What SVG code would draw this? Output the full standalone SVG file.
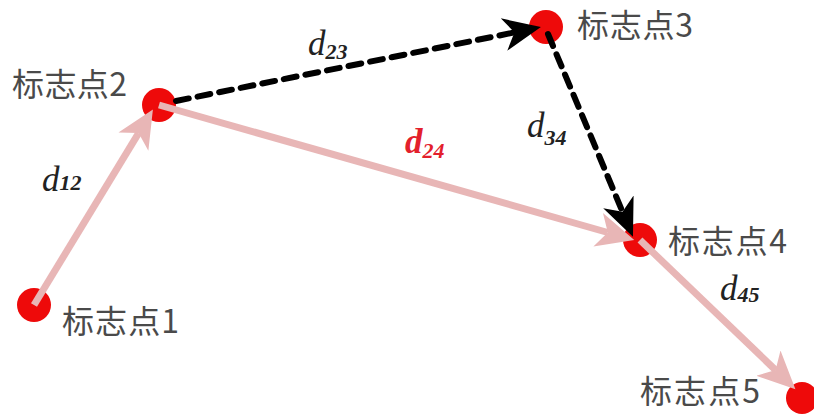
<svg xmlns="http://www.w3.org/2000/svg" width="814" height="414" viewBox="0 0 814 414">
<defs>
<style>
.node{fill:#ee0a0a;}
.lbl{font-family:"Noto Sans CJK SC","Noto Sans CJK JP",sans-serif;font-size:32px;fill:#4a4a4a;}
.d{font-family:"Liberation Serif",serif;font-style:italic;font-size:35px;fill:#222;}
.sub{font-size:22px;font-weight:bold;}
.pink{stroke:#e8b6b6;stroke-width:7;fill:none;}
.dash{stroke:#000;stroke-width:6;fill:none;stroke-dasharray:13 9;stroke-linecap:round;}
</style>
<marker id="pa" markerUnits="userSpaceOnUse" markerWidth="40" markerHeight="40" refX="8" refY="15" orient="auto" viewBox="0 0 32 30">
<path d="M30,15 L0,1 L8,15 L0,29 Z" fill="#e8b6b6"/>
</marker>
<marker id="ba" markerUnits="userSpaceOnUse" markerWidth="40" markerHeight="40" refX="9" refY="15" orient="auto" viewBox="0 0 34 30">
<path d="M32,15 L0,1 L9,15 L0,29 Z" fill="#000"/>
</marker>
</defs>
<rect width="814" height="414" fill="#fff"/>
<g id="node1"><circle class="node" cx="34" cy="305" r="17"/><text class="lbl" x="62" y="333" textLength="117" lengthAdjust="spacing">标志点1</text></g>
<g id="node2"><circle class="node" cx="159" cy="105" r="17"/><text class="lbl" x="12" y="96" textLength="115" lengthAdjust="spacing">标志点2</text></g>
<g id="node3"><circle class="node" cx="546" cy="27" r="17"/><text class="lbl" x="577" y="37" textLength="116" lengthAdjust="spacing">标志点3</text></g>
<g id="node4"><circle class="node" cx="640" cy="240" r="17"/><text class="lbl" x="668" y="253" textLength="119" lengthAdjust="spacing">标志点4</text></g>
<g id="node5"><circle class="node" cx="802" cy="398" r="16"/><text class="lbl" x="640" y="403" textLength="120" lengthAdjust="spacing">标志点5</text></g>
<g id="connectors">
<line class="pink" x1="34" y1="305" x2="138.6" y2="133.1" marker-end="url(#pa)"/>
<line class="pink" x1="159" y1="105" x2="607.8" y2="232.5" marker-end="url(#pa)"/>
<line class="pink" x1="640" y1="240" x2="775.6" y2="370.1" marker-end="url(#pa)"/>
<line class="dash" x1="176" y1="101" x2="514.4" y2="32.4" marker-end="url(#ba)"/>
<line class="dash" x1="548" y1="34" x2="622.5" y2="211.7" marker-end="url(#ba)"/>
<text class="d" x="42" y="191">d<tspan class="sub" y="190">12</tspan></text>
<text class="d" x="308" y="55">d<tspan class="sub" y="59">23</tspan></text>
<text class="d" x="405" y="153" style="fill:#e3202c;font-weight:bold">d<tspan class="sub" y="158">24</tspan></text>
<text class="d" x="527" y="137">d<tspan class="sub" y="145">34</tspan></text>
<text class="d" x="720" y="300">d<tspan class="sub" y="302">45</tspan></text>
</g>
</svg>
